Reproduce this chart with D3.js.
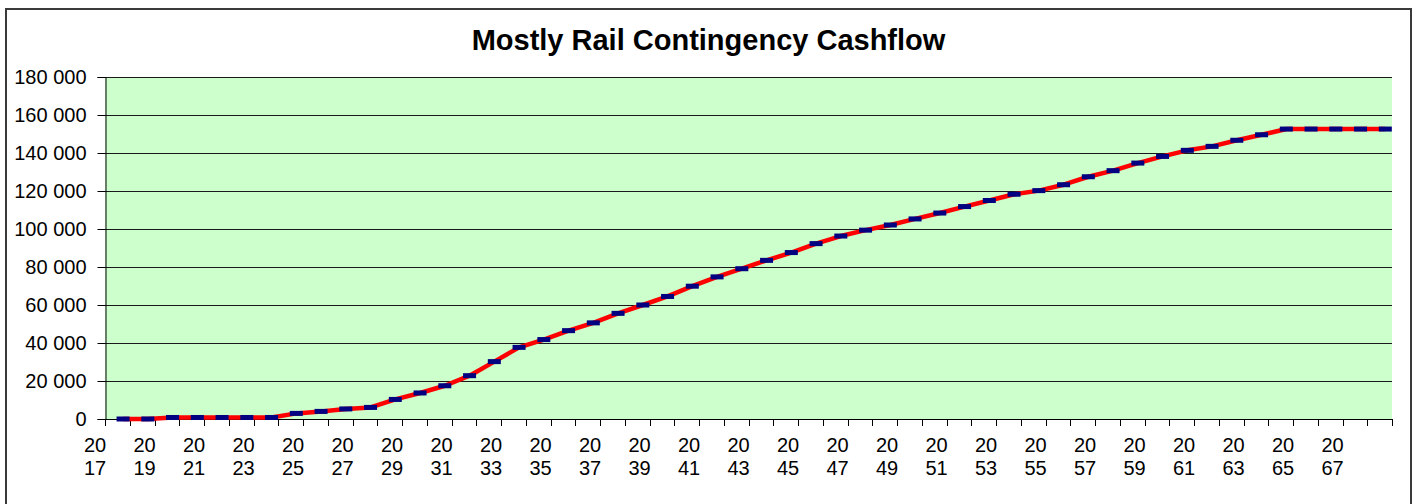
<!DOCTYPE html>
<html>
<head>
<meta charset="utf-8">
<script src="https://cdn.jsdelivr.net/npm/d3@7"></script>
<style>
  html, body { margin: 0; padding: 0; background: #ffffff; }
  svg { display: block; }
  text { font-family: "Liberation Sans", Arial, sans-serif; fill: #000; }
</style>
</head>
<body>
<script>
// ---- data ----
const title = "Mostly Rail Contingency Cashflow";
const years = [2017,2018,2019,2020,2021,2022,2023,2024,2025,2026,2027,2028,2029,2030,2031,2032,2033,2034,2035,2036,
               2037,2038,2039,2040,2041,2042,2043,2044,2045,2046,2047,2048,2049,2050,2051,2052,2053,2054,2055,2056,
               2057,2058,2059,2060,2061,2062,2063,2064,2065,2066,2067,2068];
const cashflow = [0, 0, 800, 800, 800, 800, 800, 2950, 4000, 5300,
                  6100, 10300, 13700, 17500, 22800, 30200, 37700, 41800, 46500, 50600,
                  55600, 60000, 64500, 69900, 74800, 79100, 83500, 87600, 92300, 96300,
                  99400, 102100, 105300, 108400, 111800, 115000, 118300, 120200, 123300, 127500,
                  130700, 134700, 138200, 141400, 143500, 146700, 149600, 152600, 152600, 152600,
                  152600, 152600];
const xTickLabels = ["2017","2019","2021","2023","2025","2027","2029","2031","2033","2035","2037","2039","2041",
                     "2043","2045","2047","2049","2051","2053","2055","2057","2059","2061","2063","2065","2067"];
const yTicks = [0, 20000, 40000, 60000, 80000, 100000, 120000, 140000, 160000, 180000];

// ---- layout ----
const W = 1417, H = 504;
const plot = { left: 105, right: 1392, top: 77, bottom: 419 };

const svg = d3.select("body").append("svg").attr("width", W).attr("height", H);

// outer chart border
svg.append("rect")
  .attr("x", 6).attr("y", 9).attr("width", 1405).attr("height", 500)
  .attr("fill", "#ffffff").attr("stroke", "#3a3a3a").attr("stroke-width", 2);

// title
svg.append("text")
  .attr("x", 708.5).attr("y", 50)
  .attr("text-anchor", "middle")
  .style("font-size", "29px").style("font-weight", "bold")
  .text(title);

const x = d3.scaleBand().domain(years).range([plot.left, plot.right]).paddingInner(0).paddingOuter(0);
const bw = x.bandwidth();
const px = yr => x(yr) + bw * 0.73;
const y = d3.scaleLinear().domain([0, 180000]).range([plot.bottom, plot.top]);

// plot background
svg.append("rect")
  .attr("x", plot.left).attr("y", plot.top)
  .attr("width", plot.right - plot.left).attr("height", plot.bottom - plot.top)
  .attr("fill", "#CCFFCC");

// gridlines
svg.append("g").selectAll("line").data(yTicks.filter(d => d > 0)).join("line")
  .attr("x1", plot.left).attr("x2", plot.right)
  .attr("y1", d => Math.round(y(d)) + 0.5).attr("y2", d => Math.round(y(d)) + 0.5)
  .attr("stroke", "#1a1a1a").attr("stroke-width", 1);

// y axis
const fmt = d3.formatLocale({ decimal: ".", thousands: " ", grouping: [3], currency: ["", ""] }).format(",");
const yAxis = d3.axisLeft(y).tickValues(yTicks).tickFormat(fmt).tickSize(8).tickPadding(11);
const gy = svg.append("g").attr("transform", `translate(${plot.left + 0.5},0)`).call(yAxis);
gy.select(".domain").attr("stroke", "#000");
gy.selectAll(".tick line").attr("stroke", "#000");
gy.selectAll(".tick text").style("font-size", "20px").style("font-family", '"Liberation Sans", Arial, sans-serif').attr("fill", "#000");

// x axis line and ticks (at category boundaries)
const tickPos = years.map(d => x(d)).concat([plot.right]);
svg.append("line")
  .attr("x1", plot.left).attr("x2", plot.right)
  .attr("y1", plot.bottom + 0.5).attr("y2", plot.bottom + 0.5)
  .attr("stroke", "#000").attr("stroke-width", 1);
svg.append("g").selectAll("line").data(tickPos).join("line")
  .attr("x1", d => Math.round(d) + 0.5).attr("x2", d => Math.round(d) + 0.5)
  .attr("y1", plot.bottom).attr("y2", plot.bottom + 7)
  .attr("stroke", "#000").attr("stroke-width", 1);

// x labels (two lines: "20" / "17")
const xl = svg.append("g").selectAll("text").data(xTickLabels).join("text")
  .attr("text-anchor", "middle")
  .attr("transform", d => `translate(${x(+d) - 10},0)`)
  .style("font-size", "20px");
xl.append("tspan").attr("x", 0).attr("y", 452).text(d => d.slice(0, 2));
xl.append("tspan").attr("x", 0).attr("y", 474.5).text(d => d.slice(2));

// line
const line = d3.line().x((d, i) => px(years[i])).y(d => y(d));
svg.append("path")
  .datum(cashflow)
  .attr("d", line)
  .attr("fill", "none")
  .attr("stroke", "#FF0000")
  .attr("stroke-width", 4.5)
  .attr("stroke-linejoin", "round");

// dash markers
svg.append("g").selectAll("rect").data(cashflow).join("rect")
  .attr("x", (d, i) => px(years[i]) - 6.5)
  .attr("y", d => y(d) - 2.5)
  .attr("width", 13).attr("height", 5)
  .attr("fill", "#000080");
</script>
</body>
</html>
